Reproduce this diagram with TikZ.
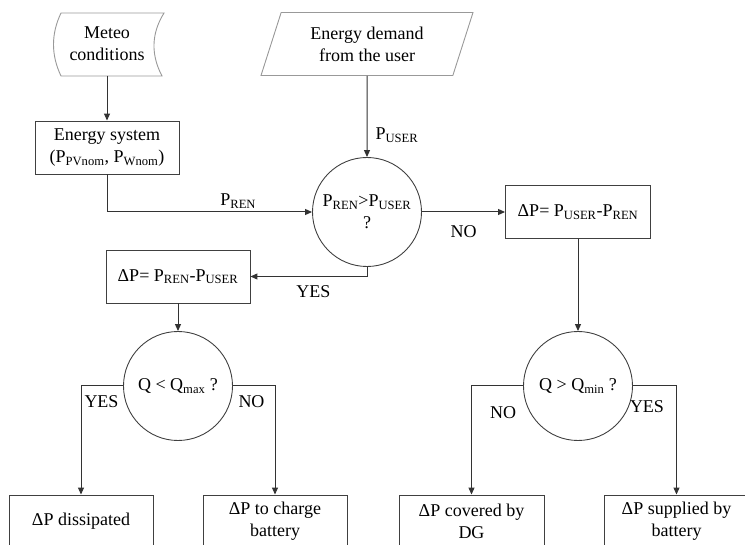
\documentclass[tikz,border=0pt]{standalone}
\usepackage{fontspec}
\setmainfont{Liberation Serif}
\newfontfamily\timesfont{Liberation Serif}
\usetikzlibrary{shapes.geometric,arrows.meta,positioning}
\newcommand{\Psub}[1]{P\textsubscript{#1}}

\begin{document}
\begin{tikzpicture}[x=1pt, y=-1pt, font=\timesfont\fontsize{18}{22}\selectfont,
	box/.style={rectangle, draw=black!75, line width=0.9pt, align=center, minimum width=144pt, minimum height=53pt, inner sep=2pt},
	decision/.style={circle, draw=black!75, line width=0.9pt, align=center, minimum size=109pt, inner sep=0pt},
	inshape/.style={draw=black!40, line width=0.9pt},
	flow/.style={draw=black!80, line width=1pt, -{Triangle[length=7pt,width=6pt]}},
	tag/.style={inner sep=3pt}]
	\useasboundingbox (0,0) rectangle (745,545);

	% inputs
	\node[align=center, minimum height=63pt] (meteo) at (107,44) {Meteo\\conditions};
	\draw[inshape] (meteo.center) ++(-46,-31) -- ++(103,0) .. controls +(-13,21) and +(-11,-21) .. ++(-2,63) -- ++(-101,0) .. controls +(-10,-21) and +(-10,21) .. ++(0,-63) -- cycle;
	\node[trapezium, trapezium left angle=64, trapezium right angle=116, trapezium stretches body, inshape, align=center, minimum width=212pt, minimum height=63pt] (demand) at (367,44) {Energy demand\\from the user};

	% boxes and checks
	\node[box] (esys) at (107,147.5) {Energy system\\(\Psub{PVnom}, \Psub{Wnom})};
	\node[decision] (check) at (367,212) {\Psub{REN}>\Psub{USER}\\?};
	\node[box, minimum width=145pt] (deficit) at (578,212) {ΔP= \Psub{USER}-\Psub{REN}};
	\node[box] (surplus) at (178,276.5) {ΔP= \Psub{REN}-\Psub{USER}};
	\node[decision] (qmax) at (178,386) {Q < Q\textsubscript{max} ?};
	\node[decision] (qmin) at (578,386) {Q > Q\textsubscript{min} ?};

	% results
	\node[box] (dissip) at (81,521.5) {ΔP dissipated};
	\node[box] (charge) at (275,521.5) {ΔP to charge\\battery};
	\node[box, minimum width=145pt] (covered) at (471.5,521.5) {ΔP covered by\\DG};
	\node[box, minimum width=145pt] (supplied) at (676.5,521.5) {ΔP supplied by\\battery};

	\draw[flow] (meteo) -- (esys);
	\draw[flow] (esys.south) |- node[tag, pos=0.82, above] {\Psub{REN}} (check.west);
	\draw[flow] (demand) -- node[tag, pos=0.73, right=5pt] {\Psub{USER}} (check);
	\draw[flow] (check) -- node[tag, below=10pt] {NO} (deficit);
	\draw[flow] (check.south) |- node[tag, pos=0.73, below=6pt] {YES} (surplus.east);
	\draw[flow] (surplus) -- (qmax);
	\draw[flow] (deficit) -- (qmin);

	\draw[flow] (qmax.west) -| node[tag, pos=0.5, below right=6pt and 0pt] {YES} (dissip.north);
	\draw[flow] (qmax.east) -| node[tag, pos=0.5, below left=6pt and 7pt] {NO} (charge.north);
	\draw[flow] (qmin.west) -| node[tag, pos=0.5, below right=17pt and 15pt] {NO} (covered.north);
	\draw[flow] (qmin.east) -| node[tag, pos=0.5, below left=11pt and 9pt] {YES} (supplied.north);
\end{tikzpicture}
\end{document}
